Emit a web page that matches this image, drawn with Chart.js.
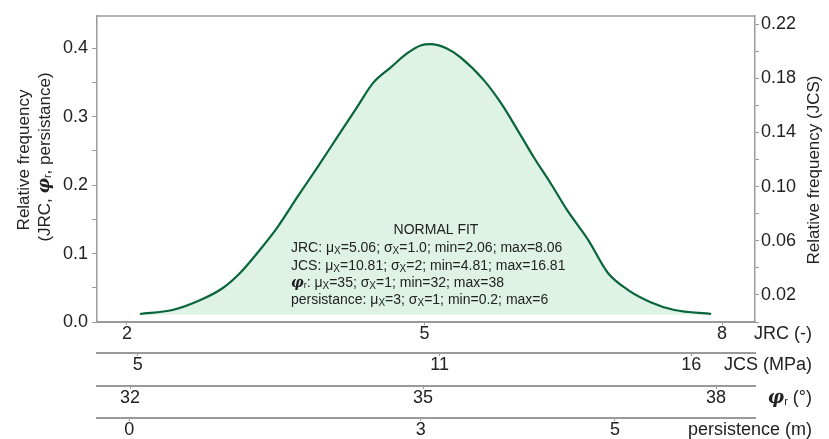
<!DOCTYPE html>
<html>
<head>
<meta charset="utf-8">
<script src="https://cdn.jsdelivr.net/npm/chart.js@4.4.0/dist/chart.umd.min.js"></script>
<style>
  html, body { margin: 0; padding: 0; background: #fff; }
  #wrap { width: 829px; height: 439px; }
</style>
</head>
<body>
<div id="wrap"><canvas id="fitChart" width="829" height="439"></canvas></div>
<script>
// normal fit curve, x read in JRC units, y = relative frequency
const jrcValues = [2.13, 2.46, 2.74, 2.97, 3.14, 3.31, 3.52, 3.72, 3.92, 4.12, 4.32, 4.48, 4.66, 4.83, 4.96, 5.06, 5.22, 5.36, 5.60, 5.77, 5.94, 6.10, 6.27, 6.44, 6.65, 6.85, 7.05, 7.28, 7.52, 7.89];
const relFreq = [0.0117, 0.0175, 0.032, 0.050, 0.0715, 0.100, 0.139, 0.183, 0.226, 0.270, 0.314, 0.349, 0.372, 0.393, 0.404, 0.406, 0.400, 0.387, 0.353, 0.320, 0.280, 0.241, 0.203, 0.163, 0.120, 0.0715, 0.047, 0.029, 0.0175, 0.0117];

// tick labels of the four stacked x axes
const jrcTicks = [2, 5, 8];
const jcsTicks = [5, 11, 16];
const phiTicks = [32, 35, 38];
const persTicks = [0, 3, 5];

// NORMAL FIT box
const fitNames = ['JRC', 'JCS', 'phi', 'persistance'];
const fitMu = ['5.06', '10.81', '35', '3'];
const fitSigma = ['1.0', '2', '1', '1'];
const fitMin = ['2.06', '4.81', '32', '0.2'];
const fitMax = ['8.06', '16.81', '38', '6'];

const SANS = '"Liberation Sans", Arial, sans-serif';
const SERIF = '"DejaVu Serif", "Liberation Serif", serif';
const GREY = '#9a9a9a';
const INK = '#222';

function drawParts(ctx, parts, x, y, align) {
  let w = 0;
  parts.forEach(p => { ctx.font = p.font; w += ctx.measureText(p.text).width; });
  let cx = align === 'center' ? x - w / 2 : align === 'right' ? x - w : x;
  ctx.textAlign = 'left';
  ctx.textBaseline = 'middle';
  parts.forEach(p => {
    ctx.font = p.font;
    ctx.fillText(p.text, cx, y + (p.dy || 0));
    cx += ctx.measureText(p.text).width;
  });
}
const txt = (t, size) => ({ text: t, font: size + 'px ' + SANS });
const subX = size => ({ text: 'X', font: Math.round(size * 0.7) + 'px ' + SANS, dy: size * 0.22 });
const phiR = size => [
  { text: 'φ', font: 'italic bold ' + size + 'px ' + SERIF },
  { text: 'r', font: Math.round(size * 0.62) + 'px ' + SANS, dy: size * 0.2 }
];

function fitLine(i, size) {
  const name = fitNames[i] === 'phi' ? phiR(size) : [txt(fitNames[i], size)];
  return name.concat([
    txt(': μ', size), subX(size),
    txt('=' + fitMu[i] + '; σ', size), subX(size),
    txt('=' + fitSigma[i] + '; min=' + fitMin[i] + '; max=' + fitMax[i], size)
  ]);
}

const decor = {
  id: 'decor',
  afterDraw(chart) {
    const ctx = chart.ctx;
    const ca = chart.chartArea;
    ctx.save();
    // top frame line
    ctx.strokeStyle = GREY;
    ctx.lineWidth = 1.5;
    ctx.beginPath();
    ctx.moveTo(ca.left, ca.top);
    ctx.lineTo(ca.right, ca.top);
    ctx.stroke();

    ctx.fillStyle = INK;
    // fit box text
    drawParts(ctx, [txt('NORMAL FIT', 14)], 436, 230, 'center');
    const rows = [248, 266, 283, 300];
    rows.forEach((y, i) => drawParts(ctx, fitLine(i, 14), 291, y, 'left'));

    // x axis titles at the right end of each axis
    const s = chart.scales;
    drawParts(ctx, [txt('JRC (-)', 18)], 812, s.x.top + 12, 'right');
    drawParts(ctx, [txt('JCS (MPa)', 18)], 812, s.jcs.top + 12, 'right');
    drawParts(ctx, phiR(18).concat([txt(' (°)', 18)]), 812, s.phi.top + 12, 'right');
    drawParts(ctx, [txt('persistence (m)', 18)], 812, s.pers.top + 12, 'right');

    // left y title, two lines
    ctx.save();
    ctx.translate(24, 160);
    ctx.rotate(-Math.PI / 2);
    drawParts(ctx, [txt('Relative frequency', 17)], 0, 0, 'center');
    ctx.restore();
    ctx.save();
    ctx.translate(45, 157);
    ctx.rotate(-Math.PI / 2);
    drawParts(ctx, [txt('(JRC, ', 17)].concat(phiR(17), [txt(', persistance)', 17)]), 0, 0, 'center');
    ctx.restore();

    // right y title
    ctx.save();
    ctx.translate(814, 170);
    ctx.rotate(-Math.PI / 2);
    drawParts(ctx, [txt('Relative frequency (JCS)', 17)], 0, 0, 'center');
    ctx.restore();
    ctx.restore();
  }
};

function bottomAxis(min, max, vals, weight, h) {
  return {
    type: 'linear',
    position: 'bottom',
    weight: weight,
    min: min,
    max: max,
    afterBuildTicks: sc => { sc.ticks = vals.map(v => ({ value: v })); },
    afterFit: sc => { sc.height = h; },
    ticks: { autoSkip: false, maxRotation: 0, padding: 0, color: INK, font: { family: SANS, size: 18, lineHeight: 1 } },
    grid: { drawOnChartArea: false, tickLength: 3, tickColor: GREY, tickWidth: 1 },
    border: { color: GREY, width: 2 }
  };
}

new Chart(document.getElementById('fitChart'), {
  type: 'line',
  data: {
    datasets: [{
      data: jrcValues.map((x, i) => ({ x: x, y: relFreq[i] })),
      xAxisID: 'x',
      yAxisID: 'y',
      borderColor: '#08663a',
      borderWidth: 2.2,
      backgroundColor: '#dff2e6',
      fill: { value: 0.0105 },
      pointRadius: 0,
      cubicInterpolationMode: 'monotone'
    }]
  },
  options: {
    responsive: false,
    animation: false,
    devicePixelRatio: 1,
    layout: { padding: { top: 16, left: 0, right: 0, bottom: 0 } },
    plugins: { legend: { display: false }, tooltip: { enabled: false } },
    scales: {
      x: bottomAxis(1.6975, 8.3325, jrcTicks, 0, 31),
      jcs: bottomAxis(4.189, 17.266, jcsTicks, 1, 33),
      phi: bottomAxis(31.662, 38.399, phiTicks, 2, 32),
      pers: bottomAxis(-0.333, 6.442, persTicks, 3, 21),
      y: {
        position: 'left',
        min: 0,
        max: 0.447,
        afterFit: sc => { sc.width = 97; },
        ticks: {
          stepSize: 0.05, maxTicksLimit: 20, includeBounds: false, padding: 4, color: INK,
          font: { family: SANS, size: 18 },
          callback: v => Math.round(v * 100) % 10 === 0 ? v.toFixed(1) : ''
        },
        grid: { drawOnChartArea: false, tickLength: 5, tickColor: GREY, tickWidth: 1 },
        border: { color: GREY, width: 1.5 }
      },
      y2: {
        position: 'right',
        display: true,
        min: 0,
        max: 0.226,
        afterFit: sc => { sc.width = 74; },
        ticks: {
          stepSize: 0.02, maxTicksLimit: 20, includeBounds: false, padding: 2, color: INK,
          font: { family: SANS, size: 18 },
          callback: v => Math.round(v * 100) % 4 === 2 ? v.toFixed(2) : ''
        },
        grid: { drawOnChartArea: false, tickLength: 4, tickColor: GREY, tickWidth: 1 },
        border: { color: GREY, width: 1.5 }
      }
    }
  },
  plugins: [decor]
});
</script>
</body>
</html>
